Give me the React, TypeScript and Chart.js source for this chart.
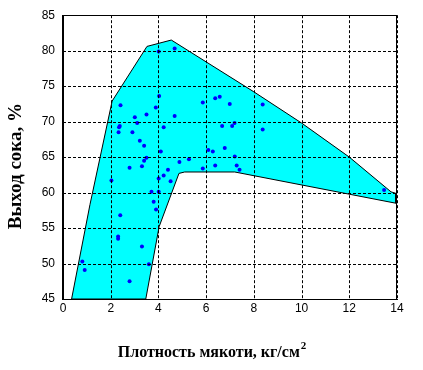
import React, { useEffect, useRef } from "react";
import { Chart, registerables } from "chart.js";

Chart.register(...registerables);

// Scatter observations (density, juice yield)
const pointsX = [
  4.01, 4.68, 2.41, 4.03, 3.89, 3.5, 3.01, 4.68, 2.38, 2.35, 2.33, 2.91, 3.11, 4.22, 3.22, 3.4, 4.1,
  5.86, 6.38, 6.57, 6.99, 6.67, 7.09, 7.19, 6.09, 6.28, 6.78, 8.37, 8.37, 7.2, 7.28, 7.4, 3.5, 3.4,
  2.79, 3.31, 4.88, 5.28, 5.86, 6.38, 4.4, 4.22, 4.01, 4.51, 2.03, 3.71, 4.01, 3.8, 3.9, 2.4, 2.31,
  2.31, 3.31, 3.6, 0.81, 0.91, 2.79, 13.46,
];
const pointsY = [
  79.9, 80.3, 72.3, 73.6, 72.0, 71.0, 70.6, 70.8, 69.4, 69.2, 68.5, 68.5, 69.8, 69.2, 67.3, 66.6, 65.8,
  72.7, 73.3, 73.5, 72.5, 69.4, 69.4, 69.8, 66.0, 65.8, 66.3, 72.4, 68.9, 65.1, 63.8, 63.2, 64.9, 64.5,
  63.5, 63.7, 64.3, 64.7, 63.4, 63.8, 63.2, 62.4, 62.0, 61.6, 61.7, 60.1, 60.1, 58.7, 57.6, 56.8, 53.8,
  53.5, 52.4, 49.9, 50.3, 49.1, 47.5, 60.35,
];

// Envelope region (closed polygon)
const regionX = [0.36, 1.13, 2.06, 3.52, 4.54, 8, 10, 12, 13.75, 13.95, 13.95, 7.2, 5.1, 4.86, 4.03, 3.47, 0.36];
const regionY = [45, 58.3, 72.9, 80.6, 81.5, 74.2, 69.8, 65.0, 60.1, 59.9, 58.5, 62.9, 62.9, 62.7, 55.2, 45, 45];

const xMin = 0;
const xMax = 14;
const xStep = 2;
const yMin = 45;
const yMax = 85;
const yStep = 5;

const xTitle = "Плотность мякоти, кг/см";
const xTitleSup = "2";
const yTitle = "Выход сока, %";

const SERIF = '"Liberation Serif", "Times New Roman", serif';
const SANS = '"Liberation Sans Narrow", "Arial Narrow", "Liberation Sans", Arial, sans-serif';

const gridPlugin = {
  id: "gridOnTop",
  afterDatasetsDraw(chart: any) {
    const { ctx, chartArea: a, scales } = chart;
    ctx.save();
    ctx.strokeStyle = "#000";
    ctx.lineWidth = 1;
    ctx.setLineDash([3, 2]);
    scales.x.ticks.forEach((t: any) => {
      const px = Math.round(scales.x.getPixelForValue(t.value)) + 0.5;
      ctx.beginPath();
      ctx.moveTo(px, a.top);
      ctx.lineTo(px, a.bottom);
      ctx.stroke();
    });
    scales.y.ticks.forEach((t: any) => {
      const py = Math.round(scales.y.getPixelForValue(t.value)) + 0.5;
      ctx.beginPath();
      ctx.moveTo(a.left, py);
      ctx.lineTo(a.right, py);
      ctx.stroke();
    });
    ctx.restore();
  },
};

const decorPlugin = {
  id: "decor",
  afterDraw(chart: any) {
    const { ctx, chartArea: a } = chart;
    ctx.save();
    ctx.strokeStyle = "#000";
    ctx.lineWidth = 1;
    ctx.setLineDash([]);
    ctx.strokeRect(Math.round(a.left) - 0.5, Math.round(a.top) + 0.5, Math.round(a.right - a.left), Math.round(a.bottom - a.top));

    ctx.fillStyle = "#000";
    ctx.textBaseline = "middle";
    ctx.textAlign = "left";
    ctx.font = `bold 16px ${SERIF}`;
    const w1 = ctx.measureText(xTitle).width;
    ctx.font = `bold 11px ${SERIF}`;
    const w2 = ctx.measureText(xTitleSup).width;
    const cx = (a.left + a.right) / 2 - 18;
    const cy = a.bottom + 54;
    const x0 = cx - (w1 + w2 + 1) / 2;
    ctx.font = `bold 16px ${SERIF}`;
    ctx.fillText(xTitle, x0, cy);
    ctx.font = `bold 11px ${SERIF}`;
    ctx.fillText(xTitleSup, x0 + w1 + 1, cy - 7);

    ctx.translate(a.left - 46.5, (a.top + a.bottom) / 2 + 9);
    ctx.rotate(-Math.PI / 2);
    ctx.textAlign = "center";
    ctx.font = `bold 19px ${SERIF}`;
    ctx.fillText(yTitle, 0, 0);
    ctx.restore();
  },
};

export default function App() {
  const canvasRef = useRef<HTMLCanvasElement | null>(null);

  useEffect(() => {
    const canvas = canvasRef.current;
    if (!canvas) return;
    const scatterData = pointsX.map((x, i) => ({ x, y: pointsY[i] }));
    const regionData = regionX.map((x, i) => ({ x, y: regionY[i] }));

    const chart = new Chart(canvas, {
      type: "scatter",
      data: {
        datasets: [
          {
            label: "points",
            data: scatterData,
            backgroundColor: "#0000FF",
            borderColor: "#0000FF",
            pointRadius: 2,
            pointBorderWidth: 0,
            showLine: false,
            order: 1,
          },
          {
            label: "region",
            data: regionData,
            showLine: true,
            fill: "shape",
            backgroundColor: "#00FFFF",
            borderColor: "#000000",
            borderWidth: 1,
            pointRadius: 0,
            tension: 0,
            order: 2,
          } as any,
        ],
      },
      options: {
        responsive: false,
        animation: false,
        layout: { padding: { left: 0, top: 7, right: 26, bottom: 0 } },
        plugins: {
          legend: { display: false },
          tooltip: { enabled: false },
        },
        scales: {
          x: {
            type: "linear",
            min: xMin,
            max: xMax,
            afterFit: (s: any) => {
              s.height = 71;
            },
            ticks: {
              stepSize: xStep,
              color: "#000",
              padding: 2,
              maxRotation: 0,
              font: { family: SANS, size: 12 },
            },
            grid: { display: false, drawTicks: false },
            border: { color: "#000", width: 1 },
          },
          y: {
            type: "linear",
            min: yMin,
            max: yMax,
            afterFit: (s: any) => {
              s.width = 63;
            },
            ticks: {
              stepSize: yStep,
              color: "#000",
              padding: 8,
              font: { family: SANS, size: 12 },
            },
            grid: { display: false, drawTicks: false },
            border: { color: "#000", width: 1 },
          },
        },
      },
      plugins: [gridPlugin, decorPlugin],
    });
    return () => chart.destroy();
  }, []);

  return (
    <div style={{ position: "absolute", left: 0, top: 0, width: 423, height: 370, background: "#fff" }}>
      <canvas ref={canvasRef} width={423} height={370} />
    </div>
  );
}
